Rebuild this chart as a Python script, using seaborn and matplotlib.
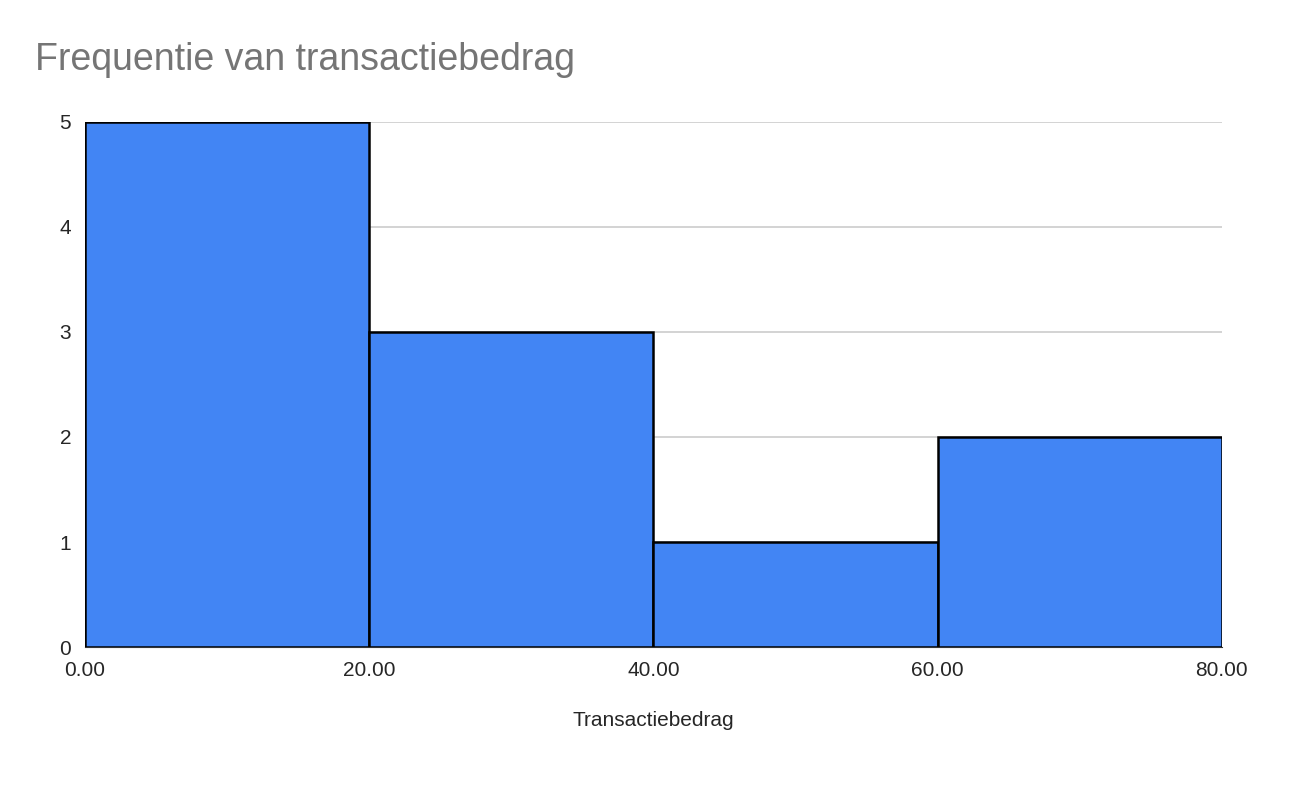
import matplotlib
matplotlib.use("Agg")
import matplotlib.pyplot as plt
import seaborn as sns

# histogram data: bin edges and counts per bin
bin_edges = [0, 20, 40, 60, 80]
bin_centers = [10, 30, 50, 70]
counts = [5, 3, 1, 2]
x_ticks = [0, 20, 40, 60, 80]
x_tick_labels = ["0.00", "20.00", "40.00", "60.00", "80.00"]
y_ticks = [0, 1, 2, 3, 4, 5]

sns.set_style("white")
plt.rcParams['font.family'] = ['Liberation Sans', 'DejaVu Sans']

fig = plt.figure(figsize=(13.12, 8), dpi=100)
ax = fig.add_axes([0.0648, 0.191, 0.8665, 0.657])

sns.histplot(x=bin_centers, weights=counts, bins=bin_edges, ax=ax,
             color="#4285F4", alpha=1, edgecolor="black", linewidth=1.8, zorder=3)

ax.set_xlim(0, 80)
ax.set_ylim(0, 5)
ax.set_xticks(x_ticks)
ax.set_xticklabels(x_tick_labels, fontsize=15)
ax.set_yticks(y_ticks)
ax.set_yticklabels([str(v) for v in y_ticks], fontsize=15)
ax.tick_params(length=0, pad=10)
ax.yaxis.grid(True, color="#cccccc", linewidth=1.2, zorder=0)
ax.set_axisbelow(True)
for s in ["top", "right", "left"]:
    ax.spines[s].set_visible(False)
ax.spines["bottom"].set_color("#333333")
ax.set_ylabel("")
ax.set_xlabel("Transactiebedrag", fontsize=15, labelpad=22)

fig.text(0.027, 0.925, "Frequentie van transactiebedrag", fontsize=27,
         color="#757575", va="center", ha="left")

fig.savefig("out.png", dpi=100)
